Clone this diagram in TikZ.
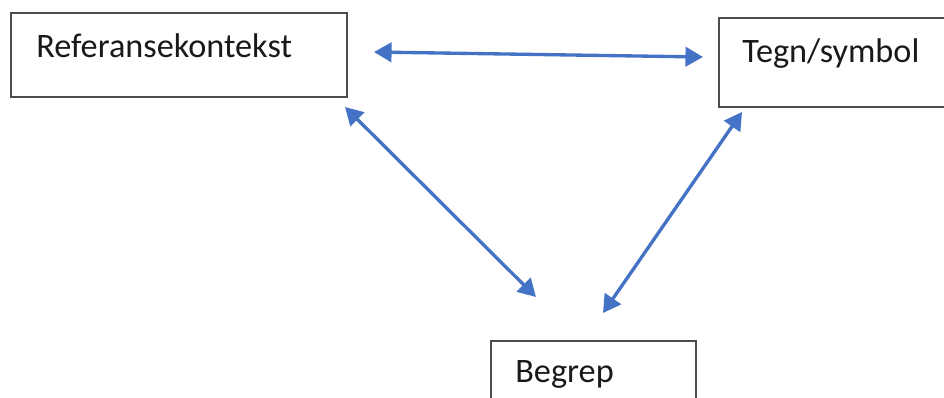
\documentclass[tikz,border=0pt]{standalone}
\usepackage{fontspec}
\setmainfont{Carlito}
\usetikzlibrary{arrows.meta,calc}
\definecolor{linkblue}{HTML}{4472C4}
\tikzstyle{box}=[draw=black!70, line width=1.1pt, rectangle, inner sep=0pt, anchor=north west]
\tikzstyle{word}=[inner sep=0pt, anchor=base west, text=black!90, font=\fontsize{19.5}{23}\selectfont]
\tikzstyle{link}=[linkblue, line width=1.9pt,
                  {Triangle[length=10pt,width=11pt]}-{Triangle[length=10pt,width=11pt]}]

\begin{document}
\begin{tikzpicture}[x=0.02cm,y=-0.02cm]
      \clip (0,0) rectangle (944,397);
      % the three boxes
      \node[box, minimum width=6.72cm, minimum height=1.68cm] (ref) at (10,12) {};
      \node[word] (reftext) at ($(ref.north west)+(26,45)$) {Referansekontekst};
      \node[box, minimum width=5cm, minimum height=1.78cm] (tegn) at (718,17) {};
      \node[word] (tegntext) at ($(tegn.north west)+(24,45)$) {Tegn/symbol};
      \node[box, minimum width=4.1cm, minimum height=2cm] (begrep) at (490,340) {};
      \node[word] (begreptext) at ($(begrep.north west)+(25,42)$) {Begrep};
      % arrow ends
      \coordinate (refright) at (374,52);
      \coordinate (tegnleft) at (703,57);
      \coordinate (refbelow) at (345,107);
      \coordinate (begrepleft) at (536,297);
      \coordinate (tegnbelow) at (742,112);
      \coordinate (begrepright) at (603,313);
	\draw[link] (refright)--(tegnleft);
	\draw[link] (refbelow)--(begrepleft);
	\draw[link] (tegnbelow)--(begrepright);
\end{tikzpicture}
\end{document}
